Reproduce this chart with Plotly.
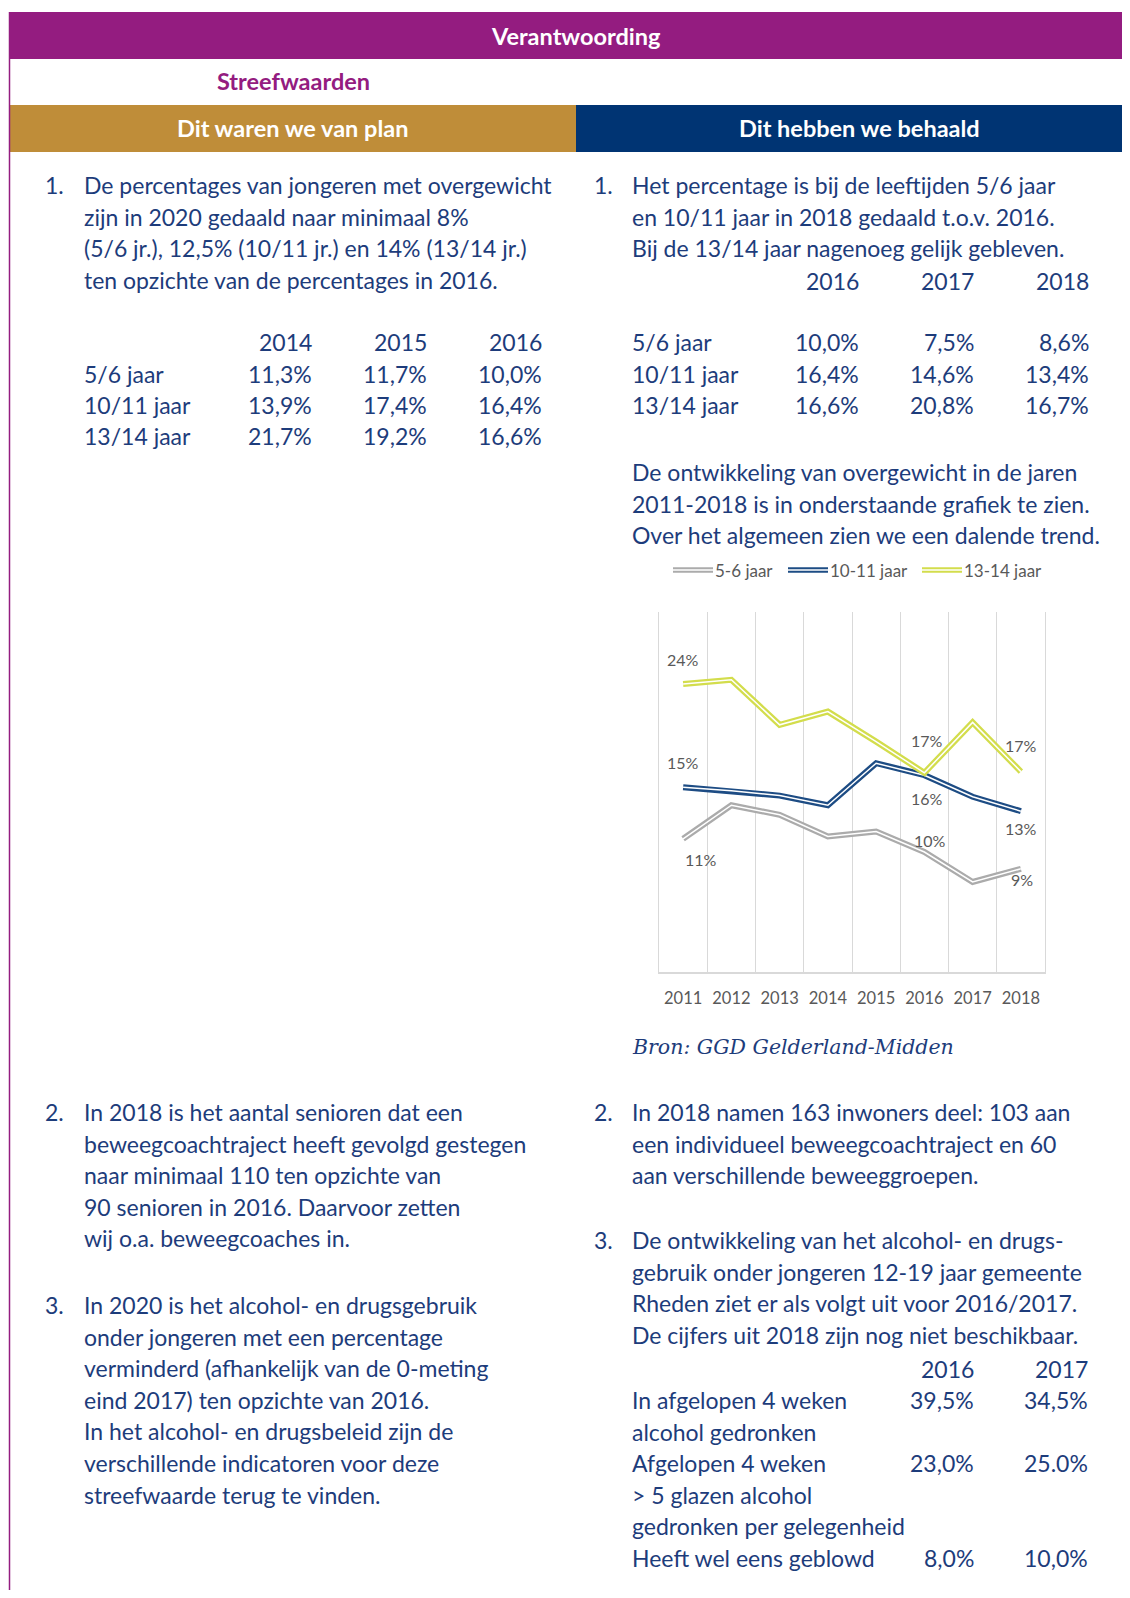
import plotly.graph_objects as go

W, H = 1130, 1598
OX, OY = 8, 8          # page body margin of the browser
FW, FH = W, H - 2 * OY

# ---------------- data ----------------
years = ["2011", "2012", "2013", "2014", "2015", "2016", "2017", "2018"]
series_names = ["5-6 jaar", "10-11 jaar", "13-14 jaar"]
vals_5_6 = [11.1, 13.9, 13.1, 11.3, 11.7, 10.0, 7.5, 8.6]
vals_10_11 = [15.4, 15.1, 14.7, 13.9, 17.4, 16.4, 14.6, 13.4]
vals_13_14 = [24.0, 24.35, 20.6, 21.7, 19.2, 16.6, 20.8, 16.7]

plan_years = ["2014", "2015", "2016"]
plan_rows = ["5/6 jaar", "10/11 jaar", "13/14 jaar"]
plan_vals = [["11,3%", "11,7%", "10,0%"],
             ["13,9%", "17,4%", "16,4%"],
             ["21,7%", "19,2%", "16,6%"]]

result_years = ["2016", "2017", "2018"]
result_vals = [["10,0%", "7,5%", "8,6%"],
               ["16,4%", "14,6%", "13,4%"],
               ["16,6%", "20,8%", "16,7%"]]

alc_years = ["2016", "2017"]
alc_vals = [["39,5%", "34,5%"], ["23,0%", "25.0%"], ["8,0%", "10,0%"]]

# ---------------- styles ----------------
FONT = "Lato"
BODY = 23
HEAD = 23.5
NAVY = "#1D3C7B"
PURPLE = "#941C80"
GOLD = "#BF8D39"
BLUE = "#003473"
CHART_TXT = "#595959"
GRID = "#D9D9D9"
line_colors = ["#ABABAB", "#1D4C84", "#D3DD4C"]
# label positions: (index, xshift, yshift) per series
label_pos = [
    [(0, 18, -21), (5, 6, 12), (7, 1, -11)],
    [(0, 0, 25), (5, 3, -23), (7, 0, -17)],
    [(0, 0, 25), (5, 3, 32), (7, 0, 26)],
]
PAD = 3  # annotation box padding compensation

def px(x):
    return (x - OX) / FW

def py(y):
    return 1 - (y - OY) / FH

annotations = []
shapes = []

def txt(x, y, s, size=BODY, color=NAVY, anchor="left", bold=False, family=FONT, italic=False):
    if bold:
        s = "<b>" + s + "</b>"
    if italic:
        s = "<i>" + s + "</i>"
    if anchor == "left":
        x -= PAD
    elif anchor == "right":
        x += PAD
    annotations.append(dict(
        x=px(x), y=py(y), xref="paper", yref="paper", text=s, showarrow=False,
        xanchor=anchor, yanchor="middle",
        font=dict(family=family, size=size, color=color)))

def rect(x0, y0, x1, y1, color):
    shapes.append(dict(type="rect", xref="paper", yref="paper",
                       x0=px(x0), x1=px(x1), y0=py(y1), y1=py(y0),
                       fillcolor=color, line=dict(width=0), layer="below"))

# header bars
rect(9, 12, W + OX, 59, PURPLE)
rect(9, 105, 576, 152, GOLD)
rect(576, 105, W + OX, 152, BLUE)
shapes.append(dict(type="line", xref="paper", yref="paper", x0=px(9.5), x1=px(9.5),
                   y0=py(12), y1=0, line=dict(color=PURPLE, width=1.5)))

txt(576, 36, "Verantwoording", size=HEAD, color="white", anchor="center", bold=True)
txt(293, 81, "Streefwaarden", size=HEAD, color=PURPLE, anchor="center", bold=True)
txt(292, 128, "Dit waren we van plan", size=HEAD, color="white", anchor="center", bold=True)
txt(859, 128, "Dit hebben we behaald", size=HEAD, color="white", anchor="center", bold=True)

LH = 31.6
LX_N, LX_T = 46, 85
RX_N, RX_T = 595, 633

def para(xn, xt, y0, num, lines):
    if num:
        txt(xn, y0, num)
    for i, l in enumerate(lines):
        txt(xt, y0 + i * LH, l)

para(LX_N, LX_T, 185, "1.", [
    "De percentages van jongeren met overgewicht",
    "zijn in 2020 gedaald naar minimaal 8%",
    "(5/6 jr.), 12,5% (10/11 jr.) en 14% (13/14 jr.)",
    "ten opzichte van de percentages in 2016.",
])

# left table
lcols = [311, 426, 541]
for c, yr in zip(lcols, plan_years):
    txt(c, 342, yr, anchor="right")
for r, (lab, row) in enumerate(zip(plan_rows, plan_vals)):
    yy = 374 + r * 31
    txt(LX_T, yy, lab)
    for c, v in zip(lcols, row):
        txt(c, yy, v, anchor="right")

para(RX_N, RX_T, 185, "1.", [
    "Het percentage is bij de leeftijden 5/6 jaar",
    "en 10/11 jaar in 2018 gedaald t.o.v. 2016.",
    "Bij de 13/14 jaar nagenoeg gelijk gebleven.",
])
rcols = [858, 973, 1088]
for c, yr in zip(rcols, result_years):
    txt(c, 281, yr, anchor="right")
for r, (lab, row) in enumerate(zip(plan_rows, result_vals)):
    yy = 342 + r * 31.5
    txt(RX_T, yy, lab)
    for c, v in zip(rcols, row):
        txt(c, yy, v, anchor="right")

para(RX_N, RX_T, 472, None, [
    "De ontwikkeling van overgewicht in de jaren",
    "2011-2018 is in onderstaande grafiek te zien.",
    "Over het algemeen zien we een dalende trend.",
])

# manual legend (double lines)
leg_x = [673, 788, 922]
for name, col, lx in zip(series_names, line_colors, leg_x):
    shapes.append(dict(type="line", xref="paper", yref="paper", x0=px(lx), x1=px(lx + 40),
                       y0=py(570), y1=py(570), line=dict(color=col, width=5.5)))
    shapes.append(dict(type="line", xref="paper", yref="paper", x0=px(lx), x1=px(lx + 40),
                       y0=py(570), y1=py(570), line=dict(color="white", width=1.4)))
    txt(lx + 43, 570, name, size=17, color=CHART_TXT)

txt(633, 1047, "Bron: GGD Gelderland-Midden", size=20.5, family="DejaVu Serif", italic=True)

para(LX_N, LX_T, 1112, "2.", [
    "In 2018 is het aantal senioren dat een",
    "beweegcoachtraject heeft gevolgd gestegen",
    "naar minimaal 110 ten opzichte van",
    "90 senioren in 2016. Daarvoor zetten",
    "wij o.a. beweegcoaches in.",
])
para(LX_N, LX_T, 1305, "3.", [
    "In 2020 is het alcohol- en drugsgebruik",
    "onder jongeren met een percentage",
    "verminderd (afhankelijk van de 0-meting",
    "eind 2017) ten opzichte van 2016.",
    "In het alcohol- en drugsbeleid zijn de",
    "verschillende indicatoren voor deze",
    "streefwaarde terug te vinden.",
])
para(RX_N, RX_T, 1112, "2.", [
    "In 2018 namen 163 inwoners deel: 103 aan",
    "een individueel beweegcoachtraject en 60",
    "aan verschillende beweeggroepen.",
])
para(RX_N, RX_T, 1240, "3.", [
    "De ontwikkeling van het alcohol- en drugs-",
    "gebruik onder jongeren 12-19 jaar gemeente",
    "Rheden ziet er als volgt uit voor 2016/2017.",
    "De cijfers uit 2018 zijn nog niet beschikbaar.",
])
acols = [973, 1087]
for c, yr in zip(acols, alc_years):
    txt(c, 1369, yr, anchor="right")
alc_labels = [["In afgelopen 4 weken", "alcohol gedronken"],
              ["Afgelopen 4 weken", "> 5 glazen alcohol", "gedronken per gelegenheid"],
              ["Heeft wel eens geblowd"]]
yy = 1400
for labs, row in zip(alc_labels, alc_vals):
    for c, v in zip(acols, row):
        txt(c, yy, v, anchor="right")
    for l in labs:
        txt(RX_T, yy, l)
        yy += 31.6

# ---------------- chart ----------------
fig = go.Figure()
all_series = [vals_5_6, vals_10_11, vals_13_14]
for name, vals, col in zip(series_names, all_series, line_colors):
    fig.add_trace(go.Scatter(x=years, y=vals, mode="lines", name=name,
                             line=dict(color=col, width=6), showlegend=False, hoverinfo="skip"))
    fig.add_trace(go.Scatter(x=years, y=vals, mode="lines", name=name,
                             line=dict(color="white", width=1.5), showlegend=False, hoverinfo="skip"))

for vals, pos in zip(all_series, label_pos):
    for i, xs, ys in pos:
        annotations.append(dict(x=i, y=vals[i], xref="x", yref="y",
                                text=f"{round(vals[i])}%", showarrow=False,
                                xshift=xs, yshift=ys,
                                font=dict(family=FONT, size=16, color=CHART_TXT)))

fig.update_layout(
    width=FW, height=FH, margin=dict(l=0, r=0, t=0, b=0),
    paper_bgcolor="white", plot_bgcolor="white",
    showlegend=False,
    xaxis=dict(domain=[px(659), px(1045)], type="category", tickson="boundaries",
               showgrid=True, gridcolor=GRID, gridwidth=1,
               showline=True, linecolor=GRID, linewidth=1.5, ticks="",
               ticklabelstandoff=10,
               tickfont=dict(family=FONT, size=16.5, color=CHART_TXT), zeroline=False,
               range=[-0.5, 7.5], fixedrange=True),
    yaxis=dict(domain=[py(972), py(612)], range=[0, 30], showgrid=False,
               showticklabels=False, zeroline=False, showline=True, mirror=True,
               linecolor=GRID, linewidth=1, ticks="", fixedrange=True),
    annotations=annotations, shapes=shapes,
)

fig.write_html("out.html")
